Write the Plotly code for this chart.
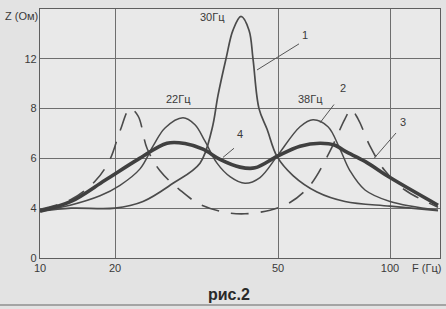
import numpy as np
import plotly.graph_objects as go

# --- axis definitions (non-uniform scales of the original drawing) ---
x_tick_pos = [0, 75, 238, 350]          # position along the F axis (drawing units)
x_tick_text = ["10", "20", "50", "100"]
z_ticks = [0, 4, 6, 8, 12, 16]           # Z (Ohm) values at equally spaced grid lines
z_tick_text = ["0", "4", "6", "8", "12"]

# --- curve 1: single resonance 30 Hz ---
c1_x = [0, 31, 75, 103, 133, 160, 172, 178, 186, 193, 201, 209, 213, 219, 227, 237, 253, 277, 305, 350, 398]
c1_z = [3.76, 4.0, 4.0, 4.27, 5.0, 5.81, 7.18, 9.06, 12.0, 14.3, 15.4, 14.3, 12.0, 8.0, 7.18, 6.08, 5.31, 4.65, 4.27, 4.08, 3.8]

# --- curve 2: two peaks 22 Hz / 38 Hz ---
c2_x = [0, 30, 60, 80, 100, 113, 125, 143, 155, 165, 177, 190, 205, 220, 237, 260, 273, 288, 300, 310, 325, 350, 398]
c2_z = [3.76, 4.12, 4.5, 4.92, 5.58, 6.49, 7.22, 7.63, 7.35, 6.69, 5.81, 5.27, 5.0, 5.23, 6.08, 7.27, 7.55, 7.27, 6.37, 5.5, 4.73, 4.27, 3.84]

# --- curve 3: dashed, widely separated peaks ---
c3_x = [0, 31, 55, 70, 80, 90, 98, 107, 120, 140, 160, 185, 205, 230, 250, 270, 290, 305, 311, 318, 330, 345, 365, 398]
c3_z = [3.92, 4.35, 5.08, 5.96, 7.1, 8.0, 7.71, 6.41, 5.5, 4.73, 4.15, 3.67, 3.55, 3.84, 4.23, 4.92, 6.29, 7.59, 7.96, 7.59, 6.49, 5.5, 4.73, 4.04]

# --- curve 4: thick, broad double hump ---
c4_x = [0, 31, 65, 98, 127, 145, 163, 180, 200, 215, 237, 260, 280, 295, 305, 325, 350, 398]
c4_z = [3.76, 4.27, 5.12, 5.96, 6.61, 6.6, 6.37, 5.96, 5.65, 5.62, 6.08, 6.49, 6.61, 6.53, 6.29, 5.88, 5.23, 4.12]

GRID_V = list(range(len(z_ticks)))


def zv(z):
    return np.interp(z, z_ticks, GRID_V)


# pixel -> data helper for annotation placement
PX_Y = [258, 209, 157, 108, 59, 9]
L, T, W, H = 40, 9, 400, 249


def px(xp, yp):
    return xp - L, float(np.interp(yp, PX_Y[::-1], GRID_V[::-1]))


def ppx(xp, yp):
    return (xp - L) / W, (T + H - yp) / H


ink = "#4b4b4b"
fig = go.Figure()
fig.add_trace(go.Scatter(x=c3_x, y=zv(c3_z), mode="lines", line=dict(color=ink, width=1.6, shape="spline", dash="18px,12px")))
fig.add_trace(go.Scatter(x=c2_x, y=zv(c2_z), mode="lines", line=dict(color=ink, width=1.5, shape="spline")))
fig.add_trace(go.Scatter(x=c1_x, y=zv(c1_z), mode="lines", line=dict(color=ink, width=1.7, shape="spline")))
fig.add_trace(go.Scatter(x=c4_x, y=zv(c4_z), mode="lines", line=dict(color="#404040", width=3.6, shape="spline")))

fam = "Liberation Sans, Arial, sans-serif"
font = dict(family=fam, size=11, color="#3a3a3a")

annotations = []


def text(xp, yp, s, size=11, ref="data", color="#3a3a3a"):
    if ref == "data":
        x, y = px(xp, yp)
    else:
        x, y = ppx(xp, yp)
    annotations.append(dict(x=x, y=y, xref="x" if ref == "data" else "paper",
                            yref="y" if ref == "data" else "paper", text=s, showarrow=False,
                            xanchor="center", yanchor="middle",
                            font=dict(family=fam, size=size, color=color)))


text(212, 17, "30Гц")
text(178, 99, "22Гц")
text(310, 99, "38Гц")
text(305, 35, "1")
text(343, 88, "2")
text(403, 121, "3")
text(240, 133, "4")
text(426, 268, "F (Гц)", ref="paper")
text(21, 16, "Z (Ом)", ref="paper")
text(229, 294, "<b>рис.2</b>", size=16, ref="paper", color="#2a2a2a")

shapes = []
for (a, b) in [((257, 70), (299, 44)), ((320, 122), (334, 104)), ((374, 157), (396, 132)), ((223, 156), (234, 147))]:
    x0, y0 = px(*a)
    x1, y1 = px(*b)
    shapes.append(dict(type="line", xref="x", yref="y", x0=x0, y0=y0, x1=x1, y1=y1, line=dict(color="#555", width=1)))
lx0, ly = ppx(0, 305)
lx1, _ = ppx(446, 305)
shapes.append(dict(type="line", xref="paper", yref="paper", x0=lx0, x1=lx1, y0=ly, y1=ly,
                   line=dict(color="#666", width=1.2)))

fig.update_layout(
    width=446, height=309, margin=dict(l=L, r=6, t=T, b=51),
    paper_bgcolor="#e3e3e3", plot_bgcolor="#e9e9e9",
    showlegend=False, font=font, annotations=annotations, shapes=shapes,
    xaxis=dict(range=[0, 400], tickvals=x_tick_pos, ticktext=x_tick_text, showgrid=True,
               gridcolor="#6e6e6e", gridwidth=1, zeroline=False, showline=True, mirror=True,
               linecolor="#5e5e5e", linewidth=1.2, ticks="", tickfont=font, fixedrange=True),
    yaxis=dict(range=[0, 5], tickvals=GRID_V[:-1], ticktext=z_tick_text, showgrid=True,
               gridcolor="#6e6e6e", gridwidth=1, zeroline=False, showline=True, mirror=True,
               linecolor="#5e5e5e", linewidth=1.2, ticks="", tickfont=font, fixedrange=True),
)

fig.write_html("out.html")
